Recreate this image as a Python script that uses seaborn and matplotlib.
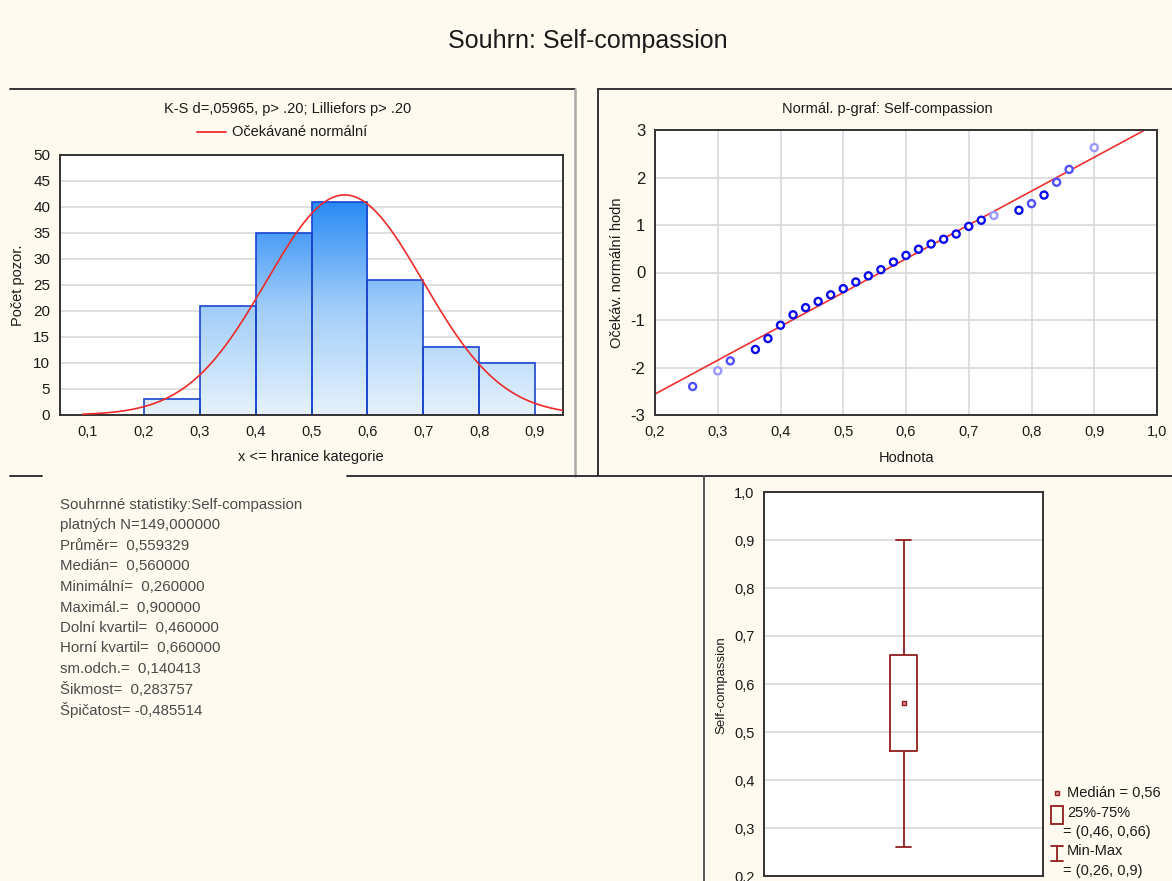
import numpy as np
import matplotlib
matplotlib.use("Agg")
import matplotlib.pyplot as plt
import seaborn as sns

from matplotlib.colors import LinearSegmentedColormap
from matplotlib.lines import Line2D
from matplotlib.patches import Rectangle
from matplotlib.ticker import FuncFormatter, MultipleLocator

# --- data ------------------------------------------------------------------
hist_edges = [0.1, 0.2, 0.3, 0.4, 0.5, 0.6, 0.7, 0.8, 0.9]
hist_counts = [0, 3, 21, 35, 41, 26, 13, 10]

sample_mean = 0.559329
sample_sd = 0.140413

qq_values = [0.26, 0.30, 0.32, 0.36, 0.38, 0.40, 0.42, 0.44, 0.46, 0.48,
             0.50, 0.52, 0.54, 0.56, 0.58, 0.60, 0.62, 0.64, 0.66, 0.68,
             0.70, 0.72, 0.74, 0.78, 0.80, 0.82, 0.84, 0.86, 0.90]
qq_expected = [-2.40, -2.07, -1.86, -1.62, -1.39, -1.11, -0.89, -0.74, -0.61,
               -0.47, -0.34, -0.20, -0.07, 0.06, 0.22, 0.36, 0.49, 0.60,
               0.70, 0.81, 0.97, 1.10, 1.20, 1.31, 1.45, 1.63, 1.90, 2.17,
               2.63]
# how many observations sit on each point (drives marker shade)
qq_overlap = [2, 1, 2, 3, 3, 3, 3, 3, 3, 3, 3, 3, 3, 3, 3, 3, 3, 3, 3, 3,
              3, 3, 1, 3, 2, 3, 2, 2, 1]

# min, lower quartile, median, upper quartile, max
box_summary = [0.26, 0.46, 0.56, 0.66, 0.90]

stats_lines = [
    "Souhrnné statistiky:Self-compassion",
    "platných N=149,000000",
    "Průměr=  0,559329",
    "Medián=  0,560000",
    "Minimální=  0,260000",
    "Maximál.=  0,900000",
    "Dolní kvartil=  0,460000",
    "Horní kvartil=  0,660000",
    "sm.odch.=  0,140413",
    "Šikmost=  0,283757",
    "Špičatost= -0,485514",
]

box_legend = ["Medián = 0,56", "25%-75%", "= (0,46, 0,66)", "Min-Max",
              "= (0,26, 0,9)"]

# --- styling ------------------------------------------------------------------
W, H = 1172, 881
BG = "#fffaf0"
SPINE = "#333333"
GRID = "#d9d9d9"
BOX_RED = "#931c1c"
TXT = "#1a1a1a"

sns.set_theme(style="white")
plt.rcParams["font.family"] = ["Liberation Sans", "DejaVu Sans"]
plt.rcParams["axes.unicode_minus"] = False
plt.rcParams["axes.edgecolor"] = SPINE
plt.rcParams["axes.linewidth"] = 1.4


def px(x, y):
    return x / W, 1 - y / H


def add_axes(fig, left, top, right, bottom):
    return fig.add_axes([left / W, 1 - bottom / H, (right - left) / W,
                         (bottom - top) / H])


def comma(v, _):
    return f"{v:.1f}".replace(".", ",")


def style_axes(ax):
    ax.set_facecolor("white")
    ax.set_axisbelow(True)
    ax.tick_params(direction="out", length=3, width=1, color=SPINE,
                   labelsize=10.5, labelcolor=TXT, pad=4)
    for s in ax.spines.values():
        s.set_color(SPINE)
        s.set_linewidth(1.4)


def fig_line(fig, x0, y0, x1, y1, color=SPINE, lw=1.4):
    a, b = px(x0, y0)
    c, d = px(x1, y1)
    fig.add_artist(Line2D([a, c], [b, d], color=color, lw=lw,
                          transform=fig.transFigure))


def fig_text(fig, x, y, s, **kw):
    a, b = px(x, y)
    kw.setdefault("color", TXT)
    fig.text(a, b, s, **kw)


def main():
    fig = plt.figure(figsize=(W / 100, H / 100), dpi=100, facecolor=BG)

    fig_text(fig, 588, 41, "Souhrn: Self-compassion", fontsize=18,
             ha="center", va="center")

    # panel frames
    fig_line(fig, 10, 89, 575, 89)
    fig_line(fig, 575, 89, 575, 476, color="#aaaaaa", lw=1.8)
    fig_line(fig, 598, 89, 1172, 89)
    fig_line(fig, 598, 89, 598, 476)
    fig_line(fig, 10, 476, 42, 476)
    fig_line(fig, 347, 476, 1172, 476)
    fig_line(fig, 704, 476, 704, 881, color="#555555")

    # --- histogram -------------------------------------------------------------
    ax1 = add_axes(fig, 60, 155, 563, 415)
    style_axes(ax1)
    centers = [(a + b) / 2 for a, b in zip(hist_edges[:-1], hist_edges[1:])]
    sns.histplot(x=centers, weights=hist_counts, bins=hist_edges, ax=ax1,
                 color="#3a8ef5", edgecolor="#1a44d0", linewidth=1.2,
                 alpha=1)
    cmap = LinearSegmentedColormap.from_list(
        "bars", ["#e6f2fd", "#9fccf9", "#2387f5"])
    for p in list(ax1.patches):
        h = p.get_height()
        p.set_facecolor("none")
        p.set_zorder(2)
        if h <= 0:
            p.set_visible(False)
            continue
        x0, w = p.get_x(), p.get_width()
        grad = np.linspace(0, h, 200).reshape(-1, 1)
        im = ax1.imshow(grad, extent=(x0, x0 + w, 0, h), origin="lower",
                        aspect="auto", cmap=cmap, vmin=0, vmax=42,
                        zorder=1.5)
        im.set_clip_path(p)

    n_total = sum(hist_counts)
    bin_w = hist_edges[1] - hist_edges[0]
    xs = np.linspace(0.09, 0.95, 300)
    ys = (n_total * bin_w / (sample_sd * np.sqrt(2 * np.pi))
          * np.exp(-0.5 * ((xs - sample_mean) / sample_sd) ** 2))
    sns.lineplot(x=xs, y=ys, ax=ax1, color="#ee2a2a", linewidth=1.2,
                 zorder=3)

    ax1.set_xlim(0.05, 0.95)
    ax1.set_ylim(0, 50)
    ax1.xaxis.set_major_locator(MultipleLocator(0.1))
    ax1.xaxis.set_major_formatter(FuncFormatter(comma))
    ax1.yaxis.set_major_locator(MultipleLocator(5))
    ax1.tick_params(axis="y", labelsize=11)
    ax1.yaxis.grid(True, color=GRID, lw=1.2)
    ax1.xaxis.grid(False)
    ax1.set_xlabel("")
    ax1.set_ylabel("")

    fig_text(fig, 288, 109, "K-S d=,05965, p> .20; Lilliefors p> .20",
             fontsize=10.5, ha="center", va="center")
    fig_line(fig, 197, 132, 226, 132, color="#ee2a2a", lw=1.3)
    fig_text(fig, 232, 132, "Očekávané normální", fontsize=10.5,
             ha="left", va="center")
    fig_text(fig, 18, 285, "Počet pozor.", fontsize=10.5, rotation=90,
             ha="center", va="center")
    fig_text(fig, 311, 457, "x <= hranice kategorie", fontsize=10.5,
             ha="center", va="center")

    # --- normal probability plot -----------------------------------------------
    ax2 = add_axes(fig, 655, 130, 1157, 415)
    style_axes(ax2)
    sns.scatterplot(x=qq_values, y=qq_expected, hue=qq_overlap,
                    palette={1: "#9898ff", 2: "#5050ff", 3: "#0a0aee"},
                    marker="o", s=26, linewidth=1.7, legend=False, ax=ax2,
                    zorder=3)
    pts = ax2.collections[-1]
    pts.set_edgecolors(pts.get_facecolors())
    pts.set_facecolors("white")

    line_x = np.array([0.2, 1.0])
    sns.lineplot(x=line_x, y=(line_x - sample_mean) / sample_sd, ax=ax2,
                 color="#f03030", linewidth=1.2, zorder=2)
    ax2.set_xlim(0.2, 1.0)
    ax2.set_ylim(-3, 3)
    ax2.xaxis.set_major_locator(MultipleLocator(0.1))
    ax2.xaxis.set_major_formatter(FuncFormatter(comma))
    ax2.yaxis.set_major_locator(MultipleLocator(1))
    ax2.grid(True, color=GRID, lw=1.2)
    ax2.tick_params(axis="y", labelsize=12)
    ax2.set_xlabel("")
    ax2.set_ylabel("")

    fig_text(fig, 887, 109, "Normál. p-graf: Self-compassion", fontsize=10.5,
             ha="center", va="center")
    fig_text(fig, 617, 273, "Očekáv. normální hodn", fontsize=10.5,
             rotation=90, ha="center", va="center")
    fig_text(fig, 906, 458, "Hodnota", fontsize=10.5, ha="center",
             va="center")

    # --- statistics text ---------------------------------------------------------
    for i, line in enumerate(stats_lines):
        fig_text(fig, 60, 505 + i * 20.5, line, fontsize=10.8,
                 color="#4a4a4a", ha="left", va="center")

    # --- box plot ------------------------------------------------------------------
    ax3 = add_axes(fig, 764, 492, 1043, 876)
    style_axes(ax3)
    sns.boxplot(y=box_summary, ax=ax3, width=0.1, whis=1.5, fill=False,
                color=BOX_RED, linewidth=1.3, showfliers=False,
                medianprops={"visible": False})
    lo, hi = box_summary[0], box_summary[-1]
    for ln in ax3.lines:
        yd = np.asarray(ln.get_ydata())
        if len(yd) == 2 and yd[0] == yd[1] and yd[0] in (lo, hi):
            ln.set_xdata([-0.027, 0.027])
    ax3.scatter([0], [box_summary[2]], marker="s", s=12, facecolor="#d99090",
                edgecolor=BOX_RED, linewidth=1, zorder=4)
    ax3.set_xlim(-0.5, 0.5)
    ax3.set_ylim(0.2, 1.0)
    ax3.set_xticks([])
    ax3.yaxis.set_major_locator(MultipleLocator(0.1))
    ax3.yaxis.set_major_formatter(FuncFormatter(comma))
    ax3.yaxis.grid(True, color=GRID, lw=1.2)
    ax3.set_xlabel("")
    ax3.set_ylabel("")
    fig_text(fig, 721, 685, "Self-compassion", fontsize=9.5, rotation=90,
             ha="center", va="center")

    # legend of the box plot, drawn by hand next to the axes
    a, b = px(1057, 793)
    fig.add_artist(Line2D([a], [b], marker="s", ms=3.5, mfc="#d99090",
                          mec=BOX_RED, mew=1, ls="none",
                          transform=fig.transFigure))
    fig_text(fig, 1067, 793, box_legend[0], fontsize=10.5, ha="left",
             va="center")
    fig.add_artist(Rectangle(px(1051, 824), 12 / W, 18 / H, fill=False,
                             edgecolor=BOX_RED, lw=1.3,
                             transform=fig.transFigure))
    fig_text(fig, 1067, 813, box_legend[1], fontsize=10.5, ha="left",
             va="center")
    fig_text(fig, 1063, 832, box_legend[2], fontsize=10.5, ha="left",
             va="center")
    fig_line(fig, 1057, 846, 1057, 861, color=BOX_RED, lw=1.3)
    fig_line(fig, 1051, 846, 1063, 846, color=BOX_RED, lw=1.3)
    fig_line(fig, 1051, 861, 1063, 861, color=BOX_RED, lw=1.3)
    fig_text(fig, 1067, 851, box_legend[3], fontsize=10.5, ha="left",
             va="center")
    fig_text(fig, 1063, 871, box_legend[4], fontsize=10.5, ha="left",
             va="center")

    fig.savefig("out.png", dpi=100, facecolor=BG)


if __name__ == "__main__":
    main()
